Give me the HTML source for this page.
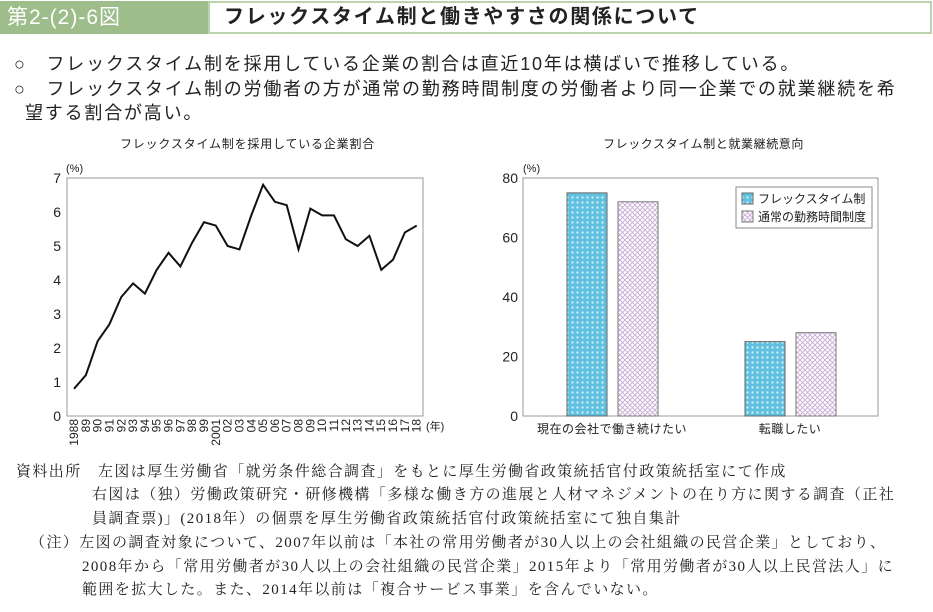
<!DOCTYPE html>
<html><head><meta charset="utf-8"><style>
body{margin:0;width:933px;height:612px;background:#fff;position:relative;overflow:hidden;font-family:"Liberation Sans","Noto Sans CJK JP",sans-serif;color:#222}
.a{position:absolute;white-space:nowrap}
.ser{font-family:"Liberation Serif","Noto Serif CJK SC",serif;font-size:15px;letter-spacing:1.4px;color:#222}
.sum{font-size:18px;letter-spacing:1.8px}
</style></head><body>
<div class="a" style="left:0;top:1px;width:208px;height:33px;background:#9dbd8a;color:#fff;font-size:21px;letter-spacing:1px;line-height:33px;padding-left:7px;box-sizing:border-box">第2-(2)-6図</div>
<div class="a" style="left:208px;top:1px;width:724px;height:33px;border:2px solid #b9d3aa;box-sizing:border-box;font-size:20px;letter-spacing:1.7px;line-height:29px;padding-left:14px;font-weight:bold;color:#222">フレックスタイム制と働きやすさの関係について</div>
<div class="a sum" style="left:14px;top:50px">○　フレックスタイム制を採用している企業の割合は直近10年は横ばいで推移している。</div>
<div class="a sum" style="left:14px;top:75px">○　フレックスタイム制の労働者の方が通常の勤務時間制度の労働者より同一企業での就業継続を希</div>
<div class="a sum" style="left:25px;top:99px">望する割合が高い。</div>
<div class="a" style="left:120px;top:135px;font-size:12px;letter-spacing:0.8px">フレックスタイム制を採用している企業割合</div>
<div class="a" style="left:603px;top:135px;font-size:12px;letter-spacing:0.6px">フレックスタイム制と就業継続意向</div>
<svg class="a" style="left:0;top:0" width="933" height="612" id="svg">
<defs>
<pattern id="pb" width="5" height="5" patternUnits="userSpaceOnUse"><rect width="5" height="5" fill="#5fc0df"/><circle cx="2.5" cy="2.5" r="1.2" fill="#c8ecf6"/></pattern>
<pattern id="pp" width="5" height="5" patternUnits="userSpaceOnUse"><rect width="5" height="5" fill="#fff"/><path d="M0 0L5 5M5 0L0 5" stroke="#c9a9d6" stroke-width="0.9"/></pattern>
</defs>
<g id="left"></g><g id="right"></g>
</svg>
<div class="a ser" style="left:16px;top:460px">資料出所　左図は厚生労働省「就労条件総合調査」をもとに厚生労働省政策統括官付政策統括室にて作成</div>
<div class="a ser" style="left:92px;top:483px">右図は（独）労働政策研究・研修機構「多様な働き方の進展と人材マネジメントの在り方に関する調査（正社</div>
<div class="a ser" style="left:92px;top:507px">員調査票)」(2018年）の個票を厚生労働省政策統括官付政策統括室にて独自集計</div>
<div class="a ser" style="left:30px;top:531px">（注）左図の調査対象について、2007年以前は「本社の常用労働者が30人以上の会社組織の民営企業」としており、</div>
<div class="a ser" style="left:82px;top:555px">2008年から「常用労働者が30人以上の会社組織の民営企業」2015年より「常用労働者が30人以上民営法人」に</div>
<div class="a ser" style="left:82px;top:578px">範囲を拡大した。また、2014年以前は「複合サービス事業」を含んでいない。</div>
<script>
const years=["1988","89","90","91","92","93","94","95","96","97","98","99","2001","02","03","04","05","06","07","08","09","10","11","12","13","14","15","16","17","18"];
const rates=[0.8,1.2,2.2,2.7,3.5,3.9,3.6,4.3,4.8,4.4,5.1,5.7,5.6,5.0,4.9,5.9,6.8,6.3,6.2,4.9,6.1,5.9,5.9,5.2,5.0,5.3,4.3,4.6,5.4,5.6];
const leftTicks=[0,1,2,3,4,5,6,7];
const cats=["現在の会社で働き続けたい","転職したい"];
const flexVals=[75,25];
const normVals=[72,28];
const rightTicks=[0,20,40,60,80];
const NS="http://www.w3.org/2000/svg";
function mk(p,t,a,txt){const e=document.createElementNS(NS,t);for(const k in a)e.setAttribute(k,a[k]);if(txt!==undefined)e.textContent=txt;p.appendChild(e);return e;}
const F='"Liberation Sans","Noto Sans CJK JP",sans-serif';
const L=document.getElementById('left');
const lx0=67,lx1=423,ly0=416,ly1=178;
const lxs=i=>74+i*(416.7-74)/(years.length-1);
const lys=v=>ly0-(v/7)*(ly0-ly1);
let r=mk(L,'rect',{x:lx0,y:ly1,width:lx1-lx0,height:ly0-ly1,fill:'none',stroke:'#999','stroke-width':1});

leftTicks.forEach(t=>{const e=mk(L,'text',{x:61,y:lys(t)+5,'text-anchor':'end','font-size':14,'font-family':F,fill:'#222'},t);
});
let u=mk(L,'text',{x:66,y:172,'font-size':11,'font-family':F,fill:'#222'},'(%)');

years.forEach((y,i)=>{const x=lxs(i);const e=mk(L,'text',{x:0,y:0,'font-size':12,'font-family':F,fill:'#222','text-anchor':'end',transform:`translate(${x+4},${ly0+3}) rotate(-90)`},y);
});
let yu=mk(L,'text',{x:426,y:430,'font-size':11,'font-family':F,fill:'#222'},'(年)');

const pl=mk(L,'polyline',{points:rates.map((v,i)=>lxs(i)+','+lys(v)).join(' '),fill:'none',stroke:'#111','stroke-width':2,'stroke-linejoin':'miter'});

const R=document.getElementById('right');
const rx0=523,rx1=878,ry0=416,ry1=178;
const rys=v=>ry0-(v/80)*(ry0-ry1);
let rf=mk(R,'rect',{x:rx0,y:ry1,width:rx1-rx0,height:ry0-ry1,fill:'none',stroke:'#999','stroke-width':1});

rightTicks.forEach(t=>{const e=mk(R,'text',{x:518,y:rys(t)+5,'text-anchor':'end','font-size':14,'font-family':F,fill:'#222'},t);
});
let ru=mk(R,'text',{x:523,y:172,'font-size':11,'font-family':F,fill:'#222'},'(%)');

const centers=[612,790];
cats.forEach((c,i)=>{
 const b1=mk(R,'rect',{x:centers[i]-45,y:rys(flexVals[i]),width:40,height:ry0-rys(flexVals[i]),fill:'url(#pb)',stroke:'#666','stroke-width':1});
 
 const b2=mk(R,'rect',{x:centers[i]+6,y:rys(normVals[i]),width:40,height:ry0-rys(normVals[i]),fill:'url(#pp)',stroke:'#777','stroke-width':1});
 
 const t=mk(R,'text',{x:centers[i],y:433,'text-anchor':'middle','font-size':12,'font-family':F,fill:'#222','letter-spacing':0.5},c);
 
});
const lg=mk(R,'g',{});

mk(lg,'rect',{x:736,y:187,width:136,height:41,fill:'#fff',stroke:'#888'});
const e1=mk(lg,'rect',{x:742,y:193,width:11,height:11,fill:'url(#pb)',stroke:'#666'});

mk(lg,'text',{x:758,y:203,'font-size':12,'font-family':F,fill:'#222'},'フレックスタイム制');
const e2=mk(lg,'rect',{x:742,y:211,width:11,height:11,fill:'url(#pp)',stroke:'#777'});

mk(lg,'text',{x:758,y:221,'font-size':12,'font-family':F,fill:'#222'},'通常の勤務時間制度');
</script>
</body></html>
